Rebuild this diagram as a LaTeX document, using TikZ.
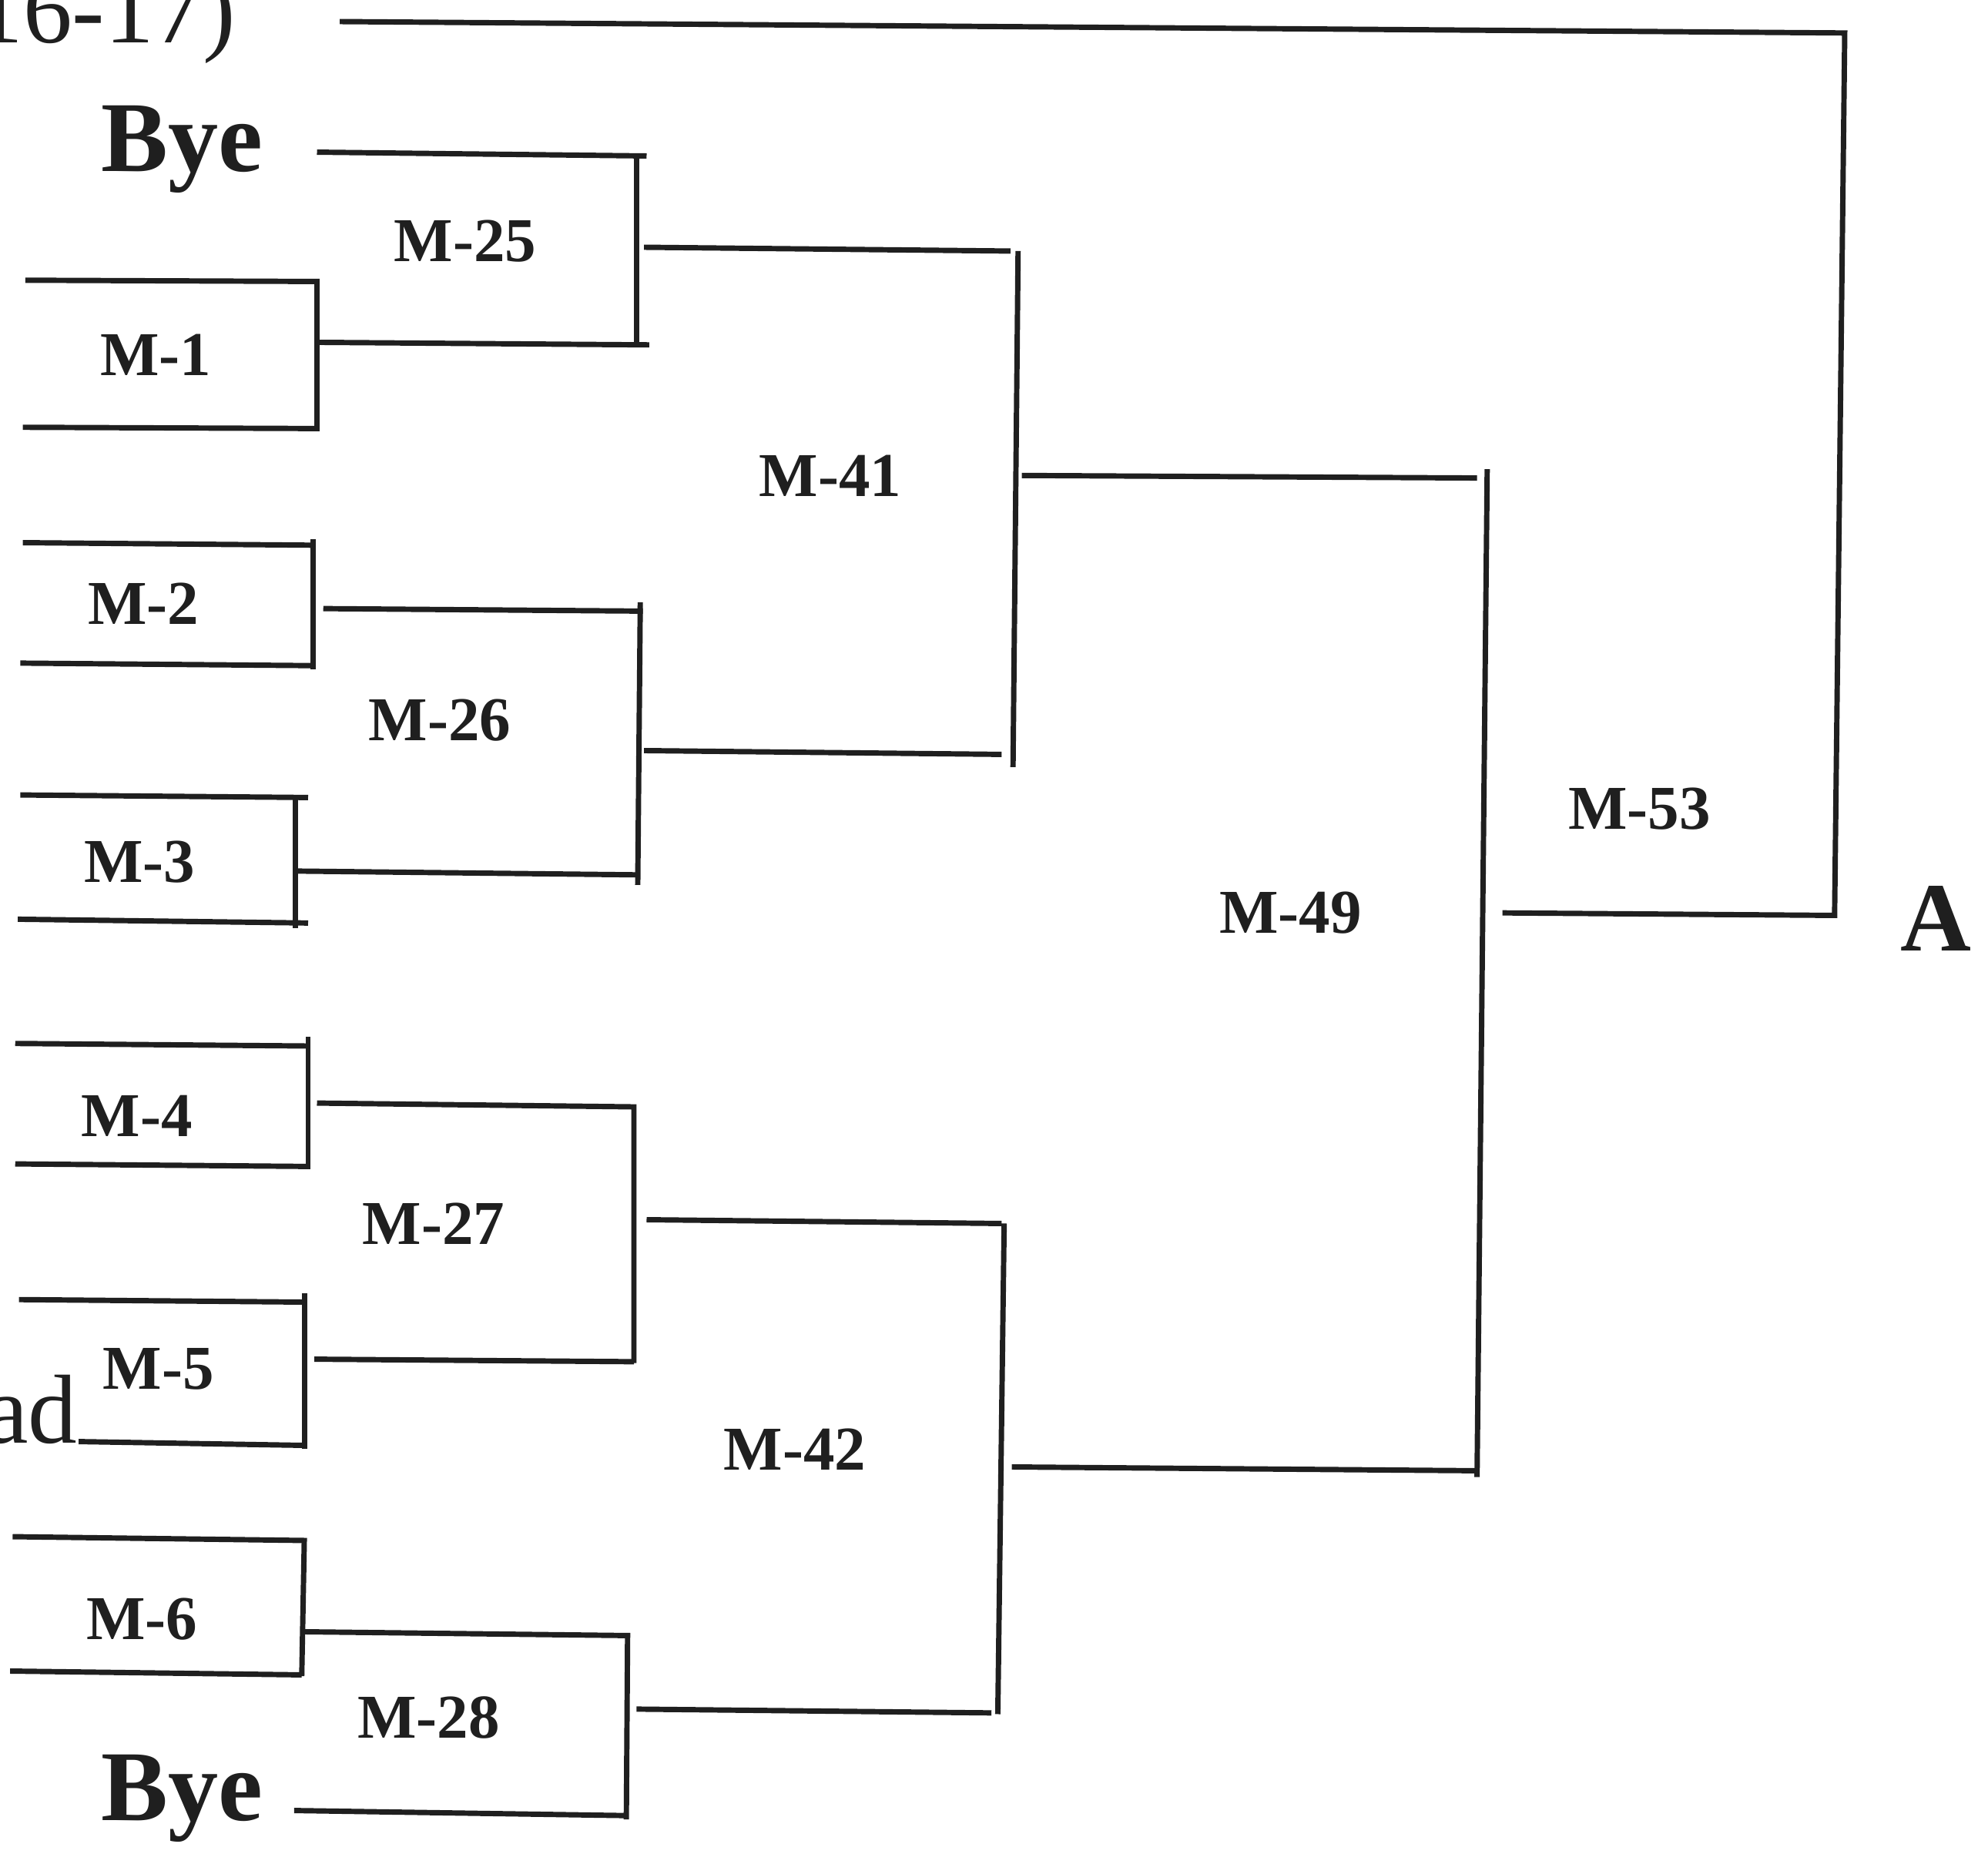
\documentclass[tikz,border=0pt]{standalone}
\usepackage{fontspec}
\setmainfont{Liberation Serif}
\usepackage{tikz}

\begin{document}
\begin{tikzpicture}[x=0.1mm, y=-0.1mm, line width=1.2pt, color=black!88,
    match/.style={font=\fontsize{14}{16}\selectfont\bfseries, inner sep=0pt},
    bigword/.style={font=\fontsize{22.5}{26}\selectfont\bfseries, inner sep=0pt, anchor=base west},
    cutword/.style={font=\fontsize{22}{26}\selectfont, inner sep=0pt, anchor=base east}]
    \useasboundingbox (0,0) rectangle (1568,1470);
    \clip (0,0) rectangle (1568,1470);

    % Loose texts
    \node[cutword] (score) at (188,34) {16-17)};
    \node[cutword] (spread) at (63,1138) {ad};
    \node[bigword] (bye1) at (78,135) {Bye};
    \node[bigword] (bye2) at (78,1436) {Bye};
    \node[bigword, font=\fontsize{22}{26}\selectfont\bfseries] (final) at (1497,750) {A};

    % First round
    \draw (20,221) -- (250,222) -- (250,338) -- (18,337);
    \node[match] (m1) at (123,280) {M-1};
    \draw (18,428) -- (247,430);
    \draw (247,425) -- (247,528);
    \draw (16,523) -- (247,525);
    \node[match] (m2) at (113,476) {M-2};
    \draw (16,627) -- (243,629);
    \draw (233,627) -- (233,732);
    \draw (14,725) -- (243,728);
    \node[match] (m3) at (110,680) {M-3};
    \draw (12,823) -- (243,825);
    \draw (243,818) -- (243,922);
    \draw (12,918) -- (243,920);
    \node[match] (m4) at (108,880) {M-4};
    \draw (15,1025) -- (240,1027);
    \draw (240,1020) -- (240,1143);
    \draw (62,1137) -- (240,1140);
    \node[match] (m5) at (125,1080) {M-5};
    \draw (10,1212) -- (240,1215) -- (238,1322);
    \draw (8,1318) -- (238,1321);
    \node[match] (m6) at (112,1277) {M-6};

    % Second round
    \draw (250,120) -- (510,123);
    \draw (502,123) -- (502,271);
    \draw (250,270) -- (512,272);
    \node[match] (m25) at (367,190) {M-25};
    \draw (255,480) -- (507,482);
    \draw (505,475) -- (503,698);
    \draw (232,687) -- (503,690);
    \node[match] (m26) at (347,568) {M-26};
    \draw (250,870) -- (500,873) -- (500,1075);
    \draw (248,1072) -- (500,1074);
    \node[match] (m27) at (342,965) {M-27};
    \draw (240,1287) -- (495,1290) -- (494,1435);
    \draw (232,1428) -- (494,1432);
    \node[match] (m28) at (338,1355) {M-28};

    % Third round
    \draw (508,195) -- (797,198);
    \draw (803,198) -- (799,605);
    \draw (508,592) -- (790,595);
    \node[match] (m41) at (655,375) {M-41};
    \draw (510,962) -- (790,965);
    \draw (792,965) -- (787,1352);
    \draw (502,1348) -- (782,1351);
    \node[match] (m42) at (627,1143) {M-42};

    % Semi and final
    \draw (806,375) -- (1165,377);
    \draw (1173,370) -- (1165,1165);
    \draw (798,1157) -- (1165,1160);
    \node[match] (m49) at (1018,720) {M-49};
    \draw (268,17) -- (1455,26) -- (1447,722) -- (1185,720);
    \node[match] (m53) at (1293,638) {M-53};
\end{tikzpicture}
\end{document}
